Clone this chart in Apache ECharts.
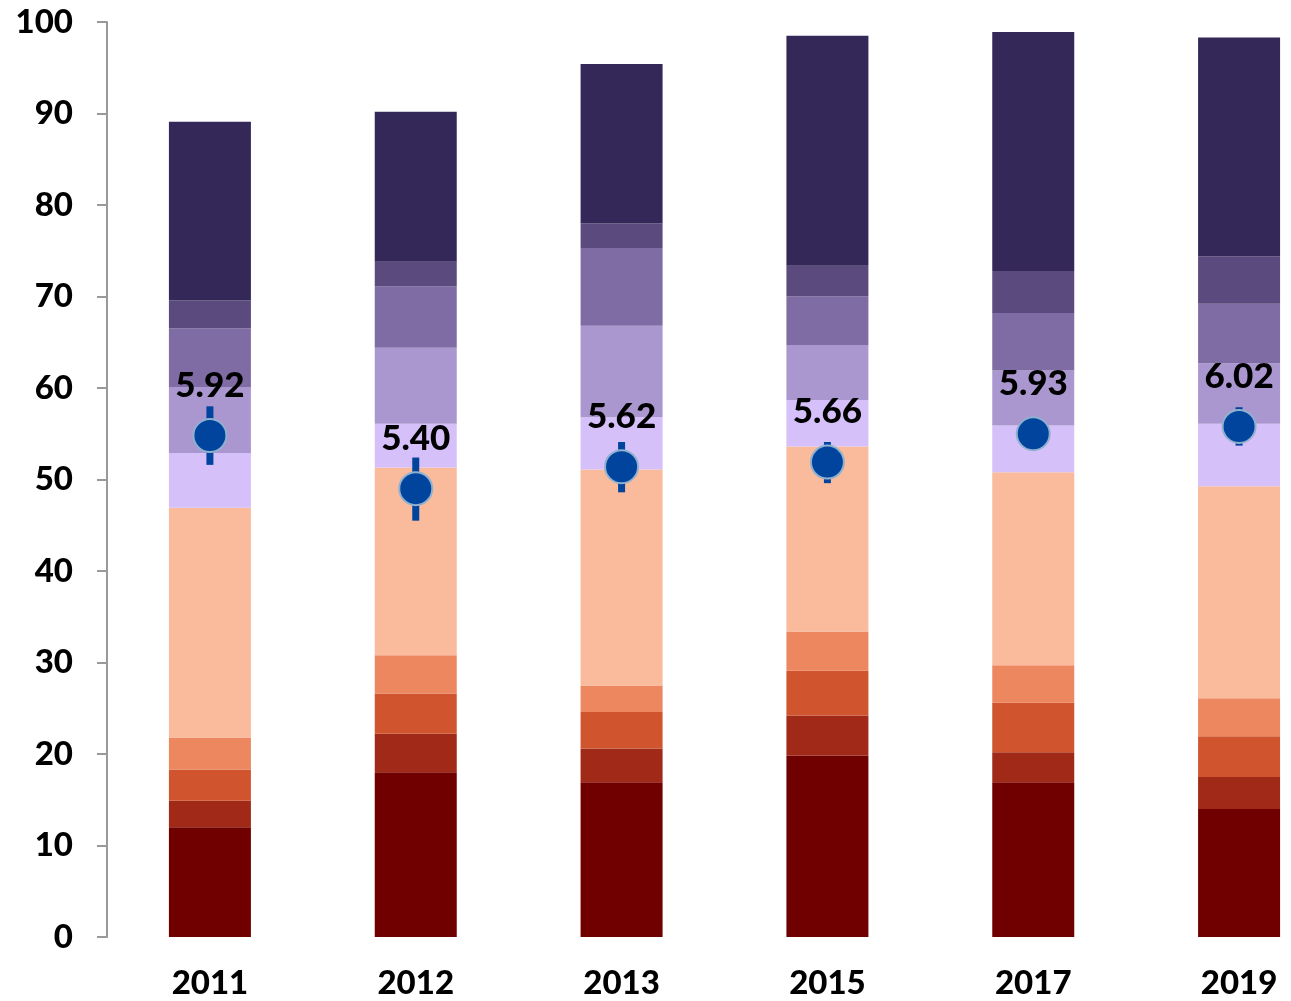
<!DOCTYPE html>
<html>
<head>
<meta charset="utf-8">
<script src="https://cdn.jsdelivr.net/npm/echarts@6/dist/echarts.min.js"></script>
<style>
  html, body { margin: 0; padding: 0; background: #fff; overflow: hidden; }
  /* the original chart is cropped on the right, so the canvas is wider than the window */
  #main { width: 1342px; height: 1001px; }
</style>
</head>
<body>
<div id="main"></div>
<script>
// categories
var years = ['2011', '2012', '2013', '2015', '2017', '2019']

// stacked segments, bottom to top
var seg1 = [12.0, 18.0, 16.9, 19.8, 16.9, 14.0]
var seg2 = [2.9, 4.2, 3.7, 4.4, 3.3, 3.5]
var seg3 = [3.4, 4.4, 4.0, 4.9, 5.4, 4.45]
var seg4 = [3.5, 4.2, 2.9, 4.3, 4.1, 4.15]
var seg5 = [25.1, 20.5, 23.6, 20.2, 21.1, 23.15]
var seg6 = [6.0, 4.8, 5.7, 5.1, 5.1, 6.85]
var seg7 = [7.2, 8.3, 10.0, 6.0, 6.0, 6.6]
var seg8 = [6.4, 6.7, 8.5, 5.3, 6.3, 6.5]
var seg9 = [3.1, 2.7, 2.7, 3.35, 4.6, 5.2]
var seg10 = [19.5, 16.4, 17.4, 25.15, 26.1, 23.9]

// mean points with error range
var meanPos = [54.8, 49.0, 51.4, 51.9, 55.0, 55.8]
var errLow = [51.6, 45.5, 48.6, 49.6, 53.5, 53.7]
var errHigh = [58.0, 52.4, 54.1, 54.1, 56.5, 57.9]
var meanLabels = ['5.92', '5.40', '5.62', '5.66', '5.93', '6.02']

var yTicks = [0, 10, 20, 30, 40, 50, 60, 70, 80, 90, 100]

var segs = [seg1, seg2, seg3, seg4, seg5, seg6, seg7, seg8, seg9, seg10]
var colors = ['#700000', '#a02918', '#d0552e', '#ec8760', '#fabb9c',
  '#d5c0fa', '#aa97d0', '#806ca4', '#5b4a7e', '#342858']

var fontFam = 'Lato, "Open Sans", sans-serif'

var series = segs.map(function (d, i) {
  return {
    type: 'bar',
    stack: 'total',
    barWidth: 82,
    data: d,
    itemStyle: { color: colors[i] },
    emphasis: { disabled: true },
    z: 2
  }
})

// error bars
series.push({
  type: 'custom',
  z: 5,
  data: years.map(function (y, i) { return [i, errLow[i], errHigh[i]] }),
  renderItem: function (params, api) {
    var lo = api.coord([api.value(0), api.value(1)])
    var hi = api.coord([api.value(0), api.value(2)])
    return {
      type: 'line',
      shape: { x1: lo[0], y1: lo[1], x2: hi[0], y2: hi[1] },
      style: { stroke: '#00449e', lineWidth: 7 }
    }
  }
})

// mean dots
series.push({
  type: 'scatter',
  z: 6,
  symbolSize: 33,
  data: meanPos,
  itemStyle: { color: '#00449e', borderColor: '#8fb0cf', borderWidth: 2, opacity: 1 },
  label: {
    show: true,
    position: 'top',
    distance: 15,
    formatter: function (p) { return meanLabels[p.dataIndex] },
    color: '#000',
    fontSize: 35,
    fontWeight: 900,
    fontFamily: fontFam
  },
  emphasis: { disabled: true }
})

var myChart = echarts.init(document.getElementById('main'))
myChart.setOption({
  animation: false,
  grid: { left: 107, right: 0, top: 22, bottom: 64 },
  xAxis: {
    type: 'category',
    data: years,
    axisLine: { show: false },
    axisTick: { show: false },
    axisLabel: {
      margin: 30,
      color: '#000',
      fontSize: 33,
      fontWeight: 900,
      fontFamily: fontFam
    }
  },
  yAxis: {
    type: 'value',
    min: yTicks[0],
    max: yTicks[yTicks.length - 1],
    interval: 10,
    splitLine: { show: false },
    axisLine: { show: true, lineStyle: { color: '#999', width: 2 } },
    axisTick: { show: true, length: 10, lineStyle: { color: '#999', width: 2 } },
    axisLabel: {
      margin: 34,
      color: '#000',
      fontSize: 33,
      fontWeight: 900,
      fontFamily: fontFam
    }
  },
  series: series
})
</script>
</body>
</html>
